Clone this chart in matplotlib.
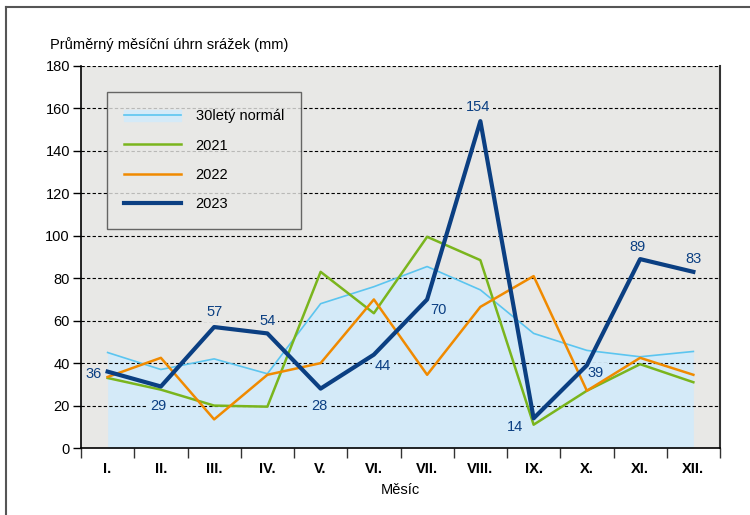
import matplotlib.pyplot as plt
from matplotlib.lines import Line2D
from matplotlib.patches import Patch

plt.rcParams['font.family'] = ['Liberation Sans', 'DejaVu Sans']

# monthly precipitation (mm)
mesice = ['I.', 'II.', 'III.', 'IV.', 'V.', 'VI.', 'VII.', 'VIII.', 'IX.', 'X.', 'XI.', 'XII.']
normal = [45, 37, 42, 35, 68, 76, 85.5, 74.5, 54, 46, 43, 45.5]
r2021 = [33, 27.5, 20, 19.5, 83, 63.5, 99.5, 88.5, 11, 27, 39.5, 31]
r2022 = [33.5, 42.5, 13.5, 34.5, 40, 70, 34.5, 66.5, 81, 27, 42.5, 34.5]
r2023 = [36, 29, 57, 54, 28, 44, 70, 154, 14, 39, 89, 83]

# label offsets (points) for 2023 values
offs = [(-10, -1.5), (-2, -14), (0, 11), (0, 9), (-1, -12.5), (6.5, -8.5),
        (8.5, -7.5), (-2, 10), (-13.5, -6), (6.5, -5.5), (-2, 8.6), (0, 9.4)]

bg = '#e8e8e6'
fillc = '#d4eaf8'
navy = '#0b3f82'

fig = plt.figure(figsize=(7.5, 5.15), dpi=100)
ax = fig.add_axes([0.108, 0.13, 0.852, 0.742])
ax.set_facecolor(bg)

x = list(range(len(mesice)))
ax.fill_between(x, normal, 0, color=fillc, lw=0, zorder=1)
ax.plot(x, normal, color='#5bc5f0', lw=1.2, zorder=3)
ax.plot(x, r2021, color='#7ab51d', lw=1.8, zorder=3)
ax.plot(x, r2022, color='#f08a00', lw=1.8, zorder=3)
ax.plot(x, r2023, color=navy, lw=3.0, zorder=4)

for i, v in enumerate(r2023):
    dx, dy = offs[i]
    under = v < normal[i] and i > 0
    ax.annotate(str(v), (i, v), xytext=(dx, dy), textcoords='offset points',
                ha='center', va='center', fontsize=10.5, color=navy, zorder=2,
                bbox=dict(boxstyle='square,pad=0.2', fc=fillc if under else bg, ec='none'))

ax.set_xlim(-0.5, 11.5)
ax.set_ylim(0, 180)
ax.set_yticks(range(0, 181, 20))
for yv in range(20, 181, 20):
    ax.axhline(yv, color='black', lw=0.8, ls=(0, (3, 2)), zorder=1.5)

ax.set_xticks(x)
ax.set_xticklabels(mesice, fontweight='bold', fontsize=10.5)
ax.set_xticks([i - 0.5 for i in range(13)], minor=True)
ax.tick_params(axis='x', which='major', length=0, pad=10)
ax.tick_params(axis='x', which='minor', length=7, width=1, color='#333333')
ax.tick_params(axis='y', length=6, width=1, labelsize=10.5, pad=2)

ax.spines['top'].set_visible(False)
ax.spines['right'].set_color('#333333')
ax.spines['right'].set_linewidth(1.5)
ax.spines['left'].set_linewidth(1.2)
ax.spines['bottom'].set_linewidth(1.2)

ax.set_xlabel('Měsíc', fontsize=10.5, labelpad=5)
fig.text(0.067, 0.905, 'Průměrný měsíční úhrn srážek (mm)', fontsize=10.5)

handles = [
    (Patch(color=fillc), Line2D([], [], color='#5bc5f0', lw=1.2)),
    Line2D([], [], color='#7ab51d', lw=1.8),
    Line2D([], [], color='#f08a00', lw=1.8),
    Line2D([], [], color=navy, lw=3.0),
]
leg = ax.legend(handles, ['30letý normál', '2021', '2022', '2023'],
                loc='upper left', bbox_to_anchor=(0.04, 0.932), fontsize=10.5,
                handlelength=3.9, handleheight=0.8, labelspacing=1.05,
                borderpad=1.2, handletextpad=1.0, borderaxespad=0,
                frameon=True, fancybox=False)
leg.get_frame().set_facecolor(bg)
leg.get_frame().set_edgecolor('#444444')
leg.get_frame().set_linewidth(1.0)
leg.set_zorder(5)

# partial outer frame: top and left
fig.add_artist(Line2D([0.008, 1.0], [0.986, 0.986], color='#555555', lw=1.5))
fig.add_artist(Line2D([0.008, 0.008], [0.0, 0.986], color='#555555', lw=1.5))

fig.savefig('out.png', dpi=100)
